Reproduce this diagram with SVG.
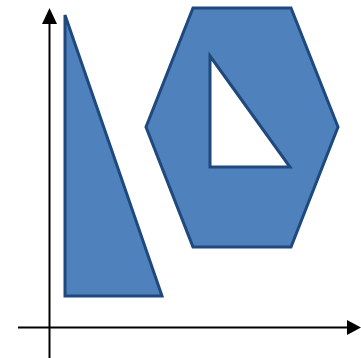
<svg xmlns="http://www.w3.org/2000/svg" width="361" height="358" viewBox="0 0 361 358">
<style>
.shape{fill:#4F81BD;stroke:#1F497D;stroke-width:3;stroke-linejoin:miter}
.axis{stroke:#000;stroke-width:2;fill:none}
</style>
<defs>
<marker id="ah" viewBox="0 0 10 10" refX="10" refY="5" markerWidth="8" markerHeight="8" markerUnits="userSpaceOnUse" orient="auto">
<path d="M0,0 L10,5 L0,10 Z" fill="#000"/>
</marker>
</defs>
<g id="connectors">
<path class="axis" d="M49.5,358 V22"/>
<path d="M49.5,8 L57,24 L42,24 Z" fill="#000"/>
<path class="axis" d="M18,327.5 H347"/>
<path d="M361,327.5 L347,320 L347,335 Z" fill="#000"/>
</g>
<g id="triangle">
<polygon class="shape" points="65,15 65,296 162,296"/>
</g>
<g id="hexagon">
<path class="shape" fill-rule="evenodd" d="M193,8 L291,8 L338,127 L291,247 L193,247 L146,127 Z M210,56 L210,167 L290,167 Z"/>
</g>
</svg>
